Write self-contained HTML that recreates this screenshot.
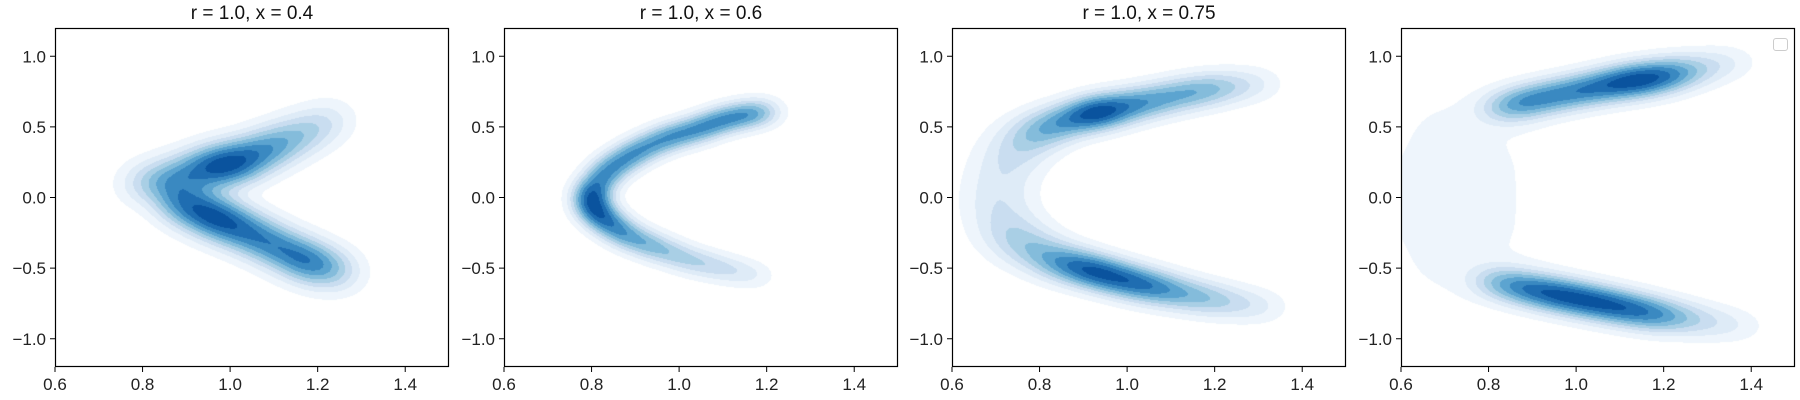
<!DOCTYPE html>
<html><head><meta charset="utf-8">
<style>
body{margin:0;background:#fff;width:1800px;height:400px;overflow:hidden;font-family:"Liberation Sans","DejaVu Sans",sans-serif;}
#root{position:relative;width:1800px;height:400px;}
canvas{position:absolute;}
svg{position:absolute;left:0;top:0;}
</style></head>
<body>
<div id="root">
<canvas id="c0" width="394" height="339" style="left:55px;top:28px"></canvas>
<canvas id="c1" width="394" height="339" style="left:504px;top:28px"></canvas>
<canvas id="c2" width="394" height="339" style="left:952px;top:28px"></canvas>
<canvas id="c3" width="394" height="339" style="left:1401px;top:28px"></canvas>
<svg id="ax" width="1800" height="400"></svg>
</div>
<script>
// ---- data (density components) ----
const titles = ["r = 1.0, x = 0.4", "r = 1.0, x = 0.6", "r = 1.0, x = 0.75", ""];
const xTicks = [0.6, 0.8, 1.0, 1.2, 1.4];
const yTicks = [-1.0, -0.5, 0.0, 0.5, 1.0];
const p1X = [0.78,0.86,0.95,1.02,1.10,1.18,1.25, 0.86,0.92,0.98,1.05,1.12,1.19,1.27];
const p1Y = [0.09,0.13,0.21,0.25,0.36,0.47,0.57, 0.0,-0.08,-0.16,-0.26,-0.37,-0.47,-0.54];
const p1W = [0.2,0.55,0.95,1.0,0.65,0.35,0.12, 0.5,0.75,0.95,0.75,0.7,0.85,0.2];
const p1G = [0,0,0,0,0,0,0, 1,1,1,1,1,1,1];
const p2X = [1.21,1.16,1.10,1.04,0.97,0.90,0.84,0.80,0.80,0.83,0.88,0.95,1.03,1.11,1.19];
const p2Y = [0.61,0.59,0.55,0.48,0.42,0.32,0.20,0.05,-0.06,-0.16,-0.27,-0.36,-0.45,-0.51,-0.56];
const p2W = [0.25,0.75,0.85,0.9,0.95,1.0,1.0,0.95,0.95,1.0,0.85,0.7,0.5,0.35,0.15];
const p2G = [0,0,0,0,0,0,0,0,0,0,0,0,0,0,0];
const p3X = [1.32,1.22,1.14,1.05,0.96,0.90,0.82,0.76,0.72,0.70,0.72,0.76,0.84,0.92,1.00,1.08,1.17,1.25,1.33];
const p3Y = [0.81,0.78,0.74,0.68,0.62,0.58,0.50,0.40,0.22,0.0,-0.2,-0.33,-0.45,-0.52,-0.59,-0.65,-0.71,-0.75,-0.78];
const p3W = [0.1,0.35,0.5,0.6,0.85,0.75,0.45,0.22,0.14,0.13,0.15,0.25,0.55,0.95,0.85,0.65,0.4,0.2,0.1];
const p3S = [1,1,1,1,1,1,1.1,1.3,1.4,1.4,1.4,1.3,1.1,1,1,1,1,1,1];
const p3G = [0,0,0,0,0,0,0,0,0,0,0,0,0,0,0,0,0,0,0];
const p4X = [1.37,1.26,1.18,1.10,1.00,0.90,0.82, 0.80,0.88,0.96,1.04,1.12,1.20,1.30,1.39, 0.66,0.64,0.66,0.82,0.80,0.82,0.72,0.72];
const p4Y = [0.97,0.90,0.85,0.81,0.75,0.69,0.62, -0.58,-0.64,-0.69,-0.74,-0.79,-0.84,-0.88,-0.92, 0.3,0,-0.3,0.3,0.0,-0.3,0.55,-0.55];
const p4W = [0.1,0.4,0.9,1.0,0.8,0.75,0.4, 0.35,0.7,0.9,0.9,0.8,0.6,0.2,0.08, 0.05,0.05,0.05,0.045,0.04,0.045,0.06,0.06];
const p4S = [1,1,1,1,1,1,1, 1,1,1,1,1,1,1,1, 2.8,2.8,2.8,2.6,2.6,2.6,2,2];
const p4G = [0,0,0,0,0,0,0, 1,1,1,1,1,1,1,1, 2,3,4,5,6,7,8,9];
const levelFracs = [0.035,0.1,0.18,0.27,0.37,0.48,0.6,0.73,0.87];
const levelColors = ['#eef5fc','#deebf7','#c9ddf0','#a9cfe5','#84bcdb','#5ca4d0','#3a89c1','#1f6db1','#0a539e'];

const panels = [
  {X:p1X,Y:p1Y,W:p1W,S:null,G:p1G,sx:16,sy:14},
  {X:p2X,Y:p2Y,W:p2W,S:null,G:p2G,sx:12,sy:9},
  {X:p3X,Y:p3Y,W:p3W,S:p3S,G:p3G,sx:16,sy:11},
  {X:p4X,Y:p4Y,W:p4W,S:p4S,G:p4G,sx:18,sy:11}
];
const PW=394, PH=339, LEFTS=[55,504,952,1401], TOP=28;
const xMin=0.6,xMax=1.5,yMin=-1.2,yMax=1.2;
function xs(v){return (v-xMin)/(xMax-xMin)*PW;}
function ys(v){return (yMax-v)/(yMax-yMin)*PH;}

panels.forEach((p,k)=>{
  const cv=document.getElementById('c'+k), ctx=cv.getContext('2d');
  const n=p.X.length, cx=[],cy=[],cw=[],cs=[];
  const SUB=5;
  for(let i=0;i<n;i++){
    const m=p.S?p.S[i]:1;
    const sameNext = i+1<n && p.G[i+1]===p.G[i];
    if(sameNext){
      const m2=p.S?p.S[i+1]:1;
      for(let s=0;s<SUB;s++){
        const t=s/SUB;
        cx.push(xs(p.X[i]+(p.X[i+1]-p.X[i])*t));
        cy.push(ys(p.Y[i]+(p.Y[i+1]-p.Y[i])*t));
        cw.push((p.W[i]+(p.W[i+1]-p.W[i])*t)/SUB*2);
        cs.push(m+(m2-m)*t);
      }
    } else {
      const prevSame = i>0 && p.G[i-1]===p.G[i];
      cx.push(xs(p.X[i]));cy.push(ys(p.Y[i]));
      cw.push(prevSame?p.W[i]/SUB*2:p.W[i]);cs.push(m);
    }
  }
  const N=cx.length;
  const d=new Float32Array(PW*PH); let mx=0;
  for(let j=0;j<PH;j++)for(let i=0;i<PW;i++){
    let s=0;
    for(let c=0;c<N;c++){
      const dx=(i+0.5-cx[c])/(p.sx*cs[c]), dy=(j+0.5-cy[c])/(p.sy*cs[c]);
      const q=dx*dx+dy*dy; if(q<30) s+=cw[c]*Math.exp(-0.5*q);
    }
    d[j*PW+i]=s; if(s>mx)mx=s;
  }
  const img=ctx.createImageData(PW,PH);
  const rgb=levelColors.map(h=>[parseInt(h.slice(1,3),16),parseInt(h.slice(3,5),16),parseInt(h.slice(5,7),16)]);
  for(let t=0;t<PW*PH;t++){
    const f=d[t]/mx; let L=-1;
    for(let l=0;l<levelFracs.length;l++) if(f>=levelFracs[l]) L=l;
    const col=L<0?[255,255,255]:rgb[L];
    img.data[t*4]=col[0];img.data[t*4+1]=col[1];img.data[t*4+2]=col[2];img.data[t*4+3]=255;
  }
  ctx.putImageData(img,0,0);
});

// ---- axes ----
const svg=document.getElementById('ax'), NS='http://www.w3.org/2000/svg';
function mk(tag,attrs,parent){const e=document.createElementNS(NS,tag);for(const a in attrs)e.setAttribute(a,attrs[a]);(parent||svg).appendChild(e);return e;}
LEFTS.forEach((L,k)=>{
  const g=mk('g',{});
  
  
  const fr=mk('rect',{x:L+0.5,y:TOP+0.5,width:PW-1,height:PH-1,fill:'none',stroke:'#000','stroke-width':1.2},g);
  
  
  xTicks.forEach(v=>{
    const x=L+xs(v);
    mk('line',{x1:x,x2:x,y1:TOP+PH,y2:TOP+PH+5,stroke:'#000','stroke-width':1},g);
    const t=mk('text',{x:x,y:TOP+PH+23,'text-anchor':'middle','font-size':17,fill:'#222'},g);
    t.textContent=v.toFixed(1);
    
    
  });
  yTicks.forEach(v=>{
    const y=TOP+ys(v);
    mk('line',{x1:L-5,x2:L,y1:y,y2:y,stroke:'#000','stroke-width':1},g);
    const t=mk('text',{x:L-9,y:y+6,'text-anchor':'end','font-size':17,fill:'#222'},g);
    t.textContent=(v<0?'\u2212':'')+Math.abs(v).toFixed(1);
    
    
  });
  if(titles[k]){
    const t=mk('text',{x:L+PW/2,y:19,'text-anchor':'middle','font-size':19,fill:'#111'},g);
    t.textContent=titles[k];
    
    
  }
});
const lg=mk('rect',{x:1773.5,y:38.5,width:14,height:12,rx:2.5,fill:'#fff',stroke:'#ccc','stroke-width':1});


</script>
</body></html>
